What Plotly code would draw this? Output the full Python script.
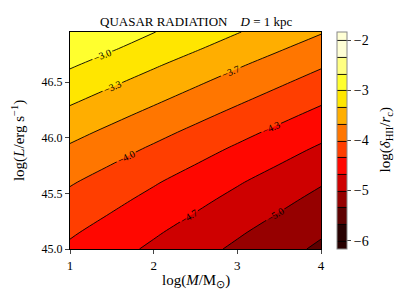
import plotly.graph_objects as go

# ---- data ----
log_m = [1.0, 1.5, 2.0, 2.5, 3.0, 3.5, 4.0]
log_l = [45.0, 45.15, 45.3, 45.45, 45.6, 45.75, 45.9, 46.05, 46.2, 46.35,
         46.5, 46.65, 46.8, 46.95]
log_delta = [
    [-4.390, -4.557, -4.723, -4.890, -5.057, -5.223, -5.390],
    [-4.294, -4.461, -4.627, -4.794, -4.961, -5.127, -5.294],
    [-4.188, -4.355, -4.521, -4.688, -4.855, -5.021, -5.188],
    [-4.082, -4.249, -4.415, -4.582, -4.749, -4.915, -5.082],
    [-3.971, -4.138, -4.304, -4.471, -4.638, -4.804, -4.971],
    [-3.842, -4.009, -4.175, -4.342, -4.509, -4.675, -4.842],
    [-3.712, -3.879, -4.045, -4.212, -4.379, -4.545, -4.712],
    [-3.571, -3.738, -3.904, -4.071, -4.238, -4.404, -4.571],
    [-3.423, -3.590, -3.756, -3.923, -4.090, -4.256, -4.423],
    [-3.272, -3.439, -3.605, -3.772, -3.939, -4.105, -4.272],
    [-3.121, -3.288, -3.454, -3.621, -3.788, -3.954, -4.121],
    [-2.968, -3.135, -3.301, -3.468, -3.635, -3.801, -3.968],
    [-2.807, -2.974, -3.140, -3.307, -3.474, -3.640, -3.807],
    [-2.668, -2.830, -2.992, -3.155, -3.318, -3.480, -3.645],
]
level_start = -6.0
level_end = -2.0
level_step = 1.0 / 3.0
x_ticks = [1, 2, 3, 4]
y_ticks = [45.0, 45.5, 46.0, 46.5]
cbar_ticks = [-2, -3, -4, -5, -6]

# 'hot' colormap sampled at the band centres
band_colors = ['#270000', '#5e0000', '#960000', '#ce0000', '#ff0700', '#ff3e00',
               '#ff7600', '#ffae00', '#ffe600', '#ffff2e', '#ffff82', '#ffffd5']

n_levels = len(band_colors) + 1
colorscale = []
for i, c in enumerate(band_colors):
    lo = 0.0 if i == 0 else (i + 0.5) / n_levels
    hi = 1.0 if i == len(band_colors) - 1 else (i + 1.5) / n_levels
    colorscale += [[lo, c], [hi, c]]

FONT = "Liberation Serif, Times New Roman, serif"

fig = go.Figure()
fig.add_trace(go.Contour(
    x=log_m, y=log_l, z=log_delta,
    colorscale=colorscale,
    autocontour=False,
    contours=dict(start=level_start, end=level_end, size=level_step,
                  coloring='fill', showlabels=True,
                  labelformat='.1f',
                  labelfont=dict(family=FONT, size=10, color='black')),
    line=dict(color='black', width=0.9),
    hoverinfo='skip',
    colorbar=dict(
        x=1.064, xanchor='left', y=0.5, yanchor='middle', len=1.0,
        thickness=10, xpad=0, ypad=0,
        outlinecolor='#888888', outlinewidth=1,
        tickvals=cbar_ticks, ticks='outside', ticklen=4,
        tickfont=dict(family=FONT, size=14, color='black'),
    ),
))

fig.update_xaxes(range=[1, 4], tickvals=x_ticks, ticks='outside', ticklen=4,
                 showgrid=False, zeroline=False, showline=True, mirror=True,
                 linecolor='black', linewidth=1, automargin=False,
                 tickfont=dict(family=FONT, size=13, color='black'))
fig.update_yaxes(range=[45.0, 46.95], tickvals=y_ticks, tickformat='.1f',
                 ticks='outside', ticklen=4, automargin=False,
                 showgrid=False, zeroline=False, showline=True, mirror=True,
                 linecolor='black', linewidth=1,
                 tickfont=dict(family=FONT, size=12, color='black'))

fig.update_layout(
    width=411, height=308,
    margin=dict(l=70, r=90, t=32, b=59, autoexpand=False),
    paper_bgcolor='white', plot_bgcolor='white',
    font=dict(family=FONT, color='black'),
    annotations=[
        dict(text="QUASAR RADIATION &nbsp;&nbsp; <i>D</i> = 1 kpc",
             x=0.5, y=1.05, xref='paper', yref='paper',
             xanchor='center', yanchor='middle', showarrow=False,
             font=dict(family=FONT, size=13)),
        dict(text="log(<i>M</i>/M<sub>⊙</sub>)",
             x=0.5, y=-0.148, xref='paper', yref='paper',
             xanchor='center', yanchor='middle', showarrow=False,
             font=dict(family=FONT, size=15)),
        dict(text="log(<i>L</i>/erg s<sup>−1</sup>)",
             x=-0.205, y=0.5, xref='paper', yref='paper',
             xanchor='center', yanchor='middle', showarrow=False,
             textangle=-90, font=dict(family=FONT, size=15)),
        dict(text="log(<i>δ</i><sub>HII</sub>/<i>r</i><sub>c</sub>)",
             x=1.255, y=0.5, xref='paper', yref='paper',
             xanchor='center', yanchor='middle', showarrow=False,
             textangle=-90, font=dict(family=FONT, size=15)),
    ],
)

fig.write_html("out.html", config={'displayModeBar': False},
               post_script="document.body.style.margin='0';document.body.style.padding='0';")
